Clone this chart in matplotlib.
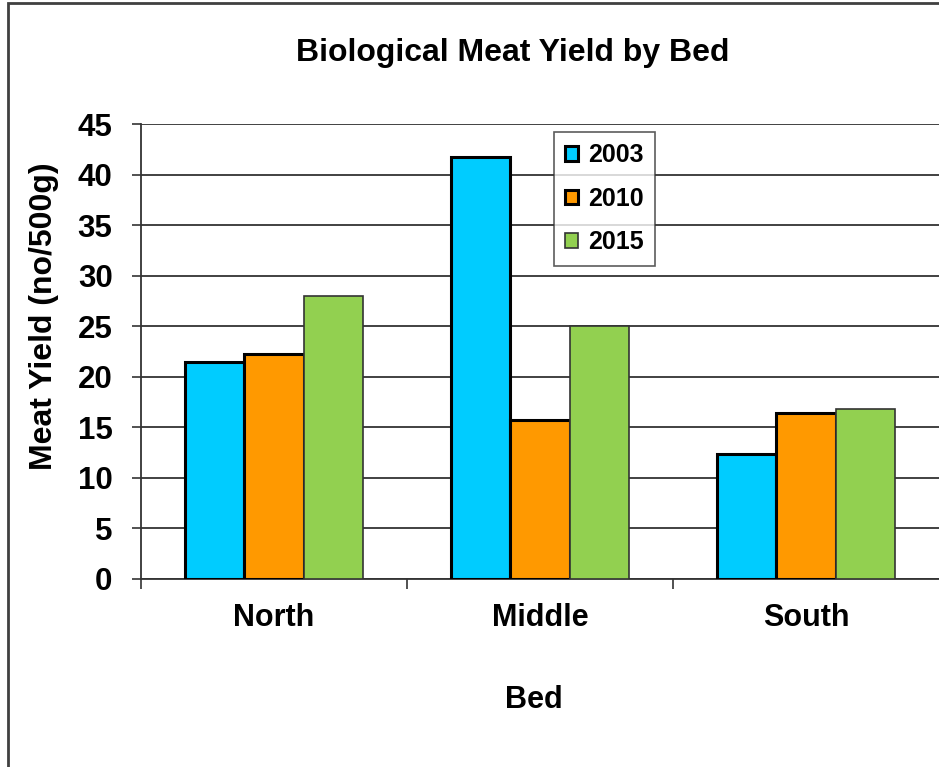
import numpy as np
import matplotlib
matplotlib.use('Agg')
from matplotlib import pyplot as plt
from matplotlib.patches import Rectangle

# 데이터
beds = ['North', 'Middle', 'South']
years = ['2003', '2010', '2015']
yield_2003 = [21.5, 41.7, 12.4]
yield_2010 = [22.3, 15.7, 16.4]
yield_2015 = [28.0, 25.0, 16.8]
y_ticks = [0, 5, 10, 15, 20, 25, 30, 35, 40, 45]

plt.rcParams['font.family'] = ['Liberation Sans', 'DejaVu Sans']
plt.rcParams['font.weight'] = 'bold'

W, H = 939, 767
fig = plt.figure(figsize=(W / 100, H / 100), dpi=100)
fig.patch.set_facecolor('white')

# 바깥 테두리 (오른쪽/아래는 잘려 있음)
fig.patches.append(Rectangle((8 / W, -0.1), 1.2, 1 - 3 / H + 0.1, transform=fig.transFigure,
                             fill=False, edgecolor='#404040', linewidth=2))

ax = fig.add_axes([141 / W, 1 - 579 / H, (939 - 141) / W, (579 - 124) / H])

x = np.arange(len(beds))
bw = 0.224
series = [yield_2003, yield_2010, yield_2015]
colors = ['#00CCFF', '#FF9900', '#92D050']
edges = ['black', 'black', '#333333']
lws = [2.2, 2.2, 1.2]
for i, vals in enumerate(series):
    ax.bar(x + (i - 1) * bw, vals, bw, color=colors[i], edgecolor=edges[i],
           linewidth=lws[i], label=years[i], zorder=3)

ax.set_xlim(-0.5, 2.5)
ax.set_ylim(0, 45)
ax.set_yticks(y_ticks)
ax.set_yticklabels([str(v) for v in y_ticks], fontsize=22.5, fontweight='bold')
ax.set_xticks([-0.5, 0.5, 1.5], minor=False)
ax.set_xticklabels([])
ax.set_xticks(x, minor=True)
ax.set_xticklabels(beds, minor=True, fontsize=22, fontweight='bold')
ax.tick_params(axis='x', which='minor', length=0, pad=17)
ax.tick_params(axis='x', which='major', length=7, width=1.2, color='#333333')
ax.tick_params(axis='y', length=6.5, width=1.2, color='#333333', pad=14)

ax.grid(axis='y', color='#333333', linewidth=1.3, zorder=0)
ax.set_axisbelow(True)
for s in ['top', 'right']:
    ax.spines[s].set_visible(False)
for s in ['left', 'bottom']:
    ax.spines[s].set_color('#333333')
    ax.spines[s].set_linewidth(1.3)

# 축 제목과 차트 제목
fig.text(44 / W, 1 - 316 / H, 'Meat Yield (no/500g)', rotation=90, ha='center', va='center',
         fontsize=23, fontweight='bold')
fig.text(534 / W, 1 - 700 / H, 'Bed', ha='center', va='center', fontsize=22, fontweight='bold')
fig.text(513 / W, 1 - 53 / H, 'Biological Meat Yield by Bed', ha='center', va='center',
         fontsize=23, fontweight='bold')

leg = ax.legend(loc='upper left', bbox_to_anchor=((554 - 141) / (939 - 141), (579 - 132) / (579 - 124)),
                borderaxespad=0, fontsize=18, frameon=True, fancybox=False,
                handlelength=0.5, handleheight=0.5, labelspacing=0.78, borderpad=0.45,
                handletextpad=0.4)
leg.get_frame().set_edgecolor('#333333')
leg.get_frame().set_linewidth(1.2)
leg.set_zorder(5)

fig.savefig('out.png', dpi=100)
